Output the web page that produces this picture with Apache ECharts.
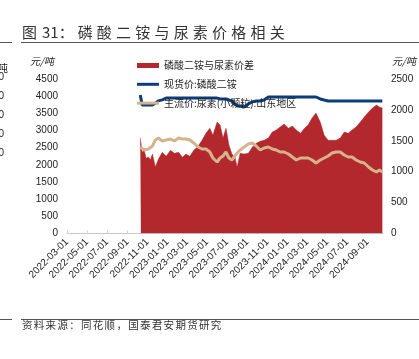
<!DOCTYPE html>
<html>
<head>
<meta charset="utf-8">
<script src="https://cdn.jsdelivr.net/npm/echarts@6/dist/echarts.min.js"></script>
<style>
html,body{margin:0;padding:0;background:#fff;}
#wrap{position:relative;width:419px;height:359px;overflow:hidden;}
#chart{position:absolute;left:0;top:0;width:419px;height:359px;}
#title{position:absolute;left:22px;top:22px;font-family:"Noto Sans CJK SC";font-size:15px;color:#333;white-space:pre;line-height:20px;}
#title .n{margin-left:5px;}
#title .b{margin-left:4px;letter-spacing:4.2px;}
#foot{position:absolute;left:22px;top:317px;font-family:"Noto Sans CJK SC";font-size:10.5px;color:#333;letter-spacing:1.3px;white-space:nowrap;line-height:16px;}
</style>
</head>
<body>
<div id="wrap">
<div id="chart"></div>
<div id="title">图<span class="n">31：</span><span class="b">磷酸二铵与尿素价格相关</span></div>
<div id="foot">资料来源：同花顺，国泰君安期货研究</div>
</div>
<script>
// ---- data ----
const startDate = '2022-03-01';
const endDate = '2024-10-18';
const dates = ['2022-10-10','2022-10-16','2022-10-22','2022-10-28','2022-11-04','2022-11-10','2022-11-16','2022-11-25','2022-12-04','2022-12-16','2022-12-28','2023-01-10','2023-01-22','2023-02-04','2023-02-15','2023-02-26','2023-03-10','2023-03-22','2023-04-04','2023-04-16','2023-04-28','2023-05-10','2023-05-19','2023-06-01','2023-06-10','2023-06-19','2023-06-28','2023-07-07','2023-07-16','2023-07-25','2023-08-01','2023-08-10','2023-08-22','2023-09-04','2023-09-16','2023-09-28','2023-10-10','2023-10-22','2023-11-04','2023-11-16','2023-11-28','2023-12-10','2023-12-22','2024-01-04','2024-01-16','2024-01-28','2024-02-10','2024-02-22','2024-03-04','2024-03-16','2024-03-28','2024-04-10','2024-04-22','2024-05-04','2024-05-16','2024-05-28','2024-06-10','2024-06-22','2024-07-04','2024-07-16','2024-07-28','2024-08-10','2024-08-22','2024-09-04','2024-09-16','2024-09-28','2024-10-07','2024-10-16'];
// 磷酸二铵与尿素价差 (right axis)
const spread = [1550,1314,1347,1220,1238,1190,1287,1076,1201,1314,1249,1347,1298,1314,1233,1287,1249,1347,1412,1509,1623,1704,1590,1806,1758,1546,1704,1433,1287,1238,1076,1298,1287,1298,1395,1460,1493,1509,1546,1644,1677,1726,1774,1704,1741,1677,1623,1704,1758,1871,1952,1806,1590,1509,1509,1509,1546,1644,1623,1677,1726,1806,1887,1968,2033,2082,2050,2033];
// 现货价:磷酸二铵 (left axis)
const dap = [4040,3750,3750,3750,3750,3750,3750,3800,3870,3900,3950,3950,3950,3950,3950,3950,3950,3950,3950,3950,3950,3950,3950,3950,3925,3925,3925,3895,3866,3780,3720,3720,3690,3780,3840,3866,3866,3895,3983,3983,3983,3983,3983,3983,3983,3983,3983,3983,3983,3983,3983,3925,3895,3866,3866,3866,3866,3866,3866,3866,3866,3866,3866,3866,3866,3866,3866,3866];
// 主流价:尿素(小颗粒):山东地区 (left axis)
const urea = [2522,2493,2434,2480,2463,2500,2551,2726,2785,2697,2726,2755,2697,2785,2755,2755,2726,2639,2522,2463,2463,2376,2200,2083,2200,2259,2376,2200,2142,2259,2346,2434,2522,2610,2639,2551,2434,2493,2522,2463,2434,2376,2376,2317,2230,2142,2200,2200,2200,2142,2054,2142,2200,2259,2346,2376,2376,2288,2230,2230,2142,2083,2054,1937,1849,1791,1849,1791];
const seriesNames = ['磷酸二铵与尿素价差','现货价:磷酸二铵','主流价:尿素(小颗粒):山东地区'];
const leftTicks = {min:0,max:4500,interval:500};
const rightTicks = {min:0,max:2500,interval:500};

// ---- build daily category axis ----
const days = [];
for (let t = Date.parse(startDate+'T00:00:00Z'); t <= Date.parse(endDate+'T00:00:00Z'); t += 86400000) {
  days.push(new Date(t).toISOString().slice(0,10));
}
const idx = {}; days.forEach((d,i)=>idx[d]=i);
function place(vals){
  const arr = new Array(days.length).fill(null);
  dates.forEach((d,i)=>{ if (idx[d]!==undefined) arr[idx[d]] = vals[i]; });
  return arr;
}
const showTick = (i, v) => v.slice(8)==='01' && parseInt(v.slice(5,7),10)%2===1;
const plain = v => String(v);
const lineIcon = 'path://M0,0H22V3H0Z';

const chart = echarts.init(document.getElementById('chart'), null, {renderer:'canvas'});
const numFont = 'Liberation Sans Narrow, Liberation Sans, Arial';
chart.setOption({
  animation:false,
  backgroundColor:'#fff',
  grid:{left:67,right:36,top:79.3,bottom:125.7,containLabel:false},
  legend:{
    orient:'vertical', left:132, top:54.5, itemWidth:22, itemHeight:5, itemGap:6.8,
    textStyle:{fontFamily:'Noto Sans CJK SC',fontSize:10,color:'#222',lineHeight:12},
    data:[{name:seriesNames[0],icon:'rect'},{name:seriesNames[1],icon:lineIcon},{name:seriesNames[2],icon:lineIcon}]
  },
  xAxis:{
    type:'category', data:days, boundaryGap:false,
    axisLine:{lineStyle:{color:'#c8c8c8',width:1}},
    axisTick:{inside:true,length:3,interval:showTick,lineStyle:{color:'#d8d8d8'}},
    axisLabel:{interval:showTick,rotate:45,fontSize:10,color:'#222',fontFamily:'Liberation Sans, Arial',margin:7},
    splitLine:{show:false}
  },
  yAxis:[
    {type:'value',min:leftTicks.min,max:leftTicks.max,interval:leftTicks.interval,
     axisLine:{show:false},axisTick:{show:false},splitLine:{show:false},
     axisLabel:{formatter:plain,fontSize:10,color:'#222',fontFamily:numFont,margin:9}},
    {type:'value',min:rightTicks.min,max:rightTicks.max,interval:rightTicks.interval,position:'right',
     axisLine:{show:false},axisTick:{show:false},splitLine:{show:false},
     axisLabel:{formatter:plain,fontSize:10,color:'#222',fontFamily:numFont,margin:8}}
  ],
  series:[
    {name:seriesNames[0],type:'line',yAxisIndex:1,data:place(spread),connectNulls:true,
     symbol:'none',showSymbol:false,lineStyle:{width:0.5,color:'#B2282D'},itemStyle:{color:'#B2282D'},
     areaStyle:{color:'#B2282D',opacity:1},z:1},
    {name:seriesNames[1],type:'line',yAxisIndex:0,data:place(dap),connectNulls:true,
     symbol:'none',showSymbol:false,lineStyle:{width:3,color:'#0B3D7A'},itemStyle:{color:'#0B3D7A'},z:3},
    {name:seriesNames[2],type:'line',yAxisIndex:0,data:place(urea),connectNulls:true,
     symbol:'none',showSymbol:false,lineStyle:{width:3,color:'#D4B38D'},itemStyle:{color:'#D4B38D'},z:2}
  ],
  graphic:[
    {type:'line',shape:{x1:21,y1:42.5,x2:419,y2:42.5},style:{stroke:'#555',lineWidth:1}},
    {type:'line',shape:{x1:0,y1:42.5,x2:12,y2:42.5},style:{stroke:'#555',lineWidth:1}},
    {type:'line',shape:{x1:21,y1:319.5,x2:419,y2:319.5},style:{stroke:'#555',lineWidth:1}},
    {type:'line',shape:{x1:0,y1:319.5,x2:12,y2:319.5},style:{stroke:'#555',lineWidth:1}},
    {type:'text',left:30,top:56,style:{text:'元/吨',fontSize:10,fontFamily:'Noto Sans CJK SC',fill:'#222',fontStyle:'italic'}},
    {type:'text',left:392,top:56,style:{text:'元/吨',fontSize:10,fontFamily:'Noto Sans CJK SC',fill:'#222',fontStyle:'italic'}},
    {type:'text',x:8,y:68,style:{text:'元/吨',fontSize:10,fontFamily:'Noto Sans CJK SC',fill:'#222',align:'right',verticalAlign:'middle'}},
    {type:'text',x:4,y:77,style:{text:'3000',fontSize:10,fontFamily:numFont,fill:'#222',align:'right',verticalAlign:'middle'}},
    {type:'text',x:4,y:96,style:{text:'2500',fontSize:10,fontFamily:numFont,fill:'#222',align:'right',verticalAlign:'middle'}},
    {type:'text',x:4,y:115,style:{text:'2000',fontSize:10,fontFamily:numFont,fill:'#222',align:'right',verticalAlign:'middle'}},
    {type:'text',x:4,y:134,style:{text:'1500',fontSize:10,fontFamily:numFont,fill:'#222',align:'right',verticalAlign:'middle'}},
    {type:'text',x:4,y:153,style:{text:'1000',fontSize:10,fontFamily:numFont,fill:'#222',align:'right',verticalAlign:'middle'}}
  ]
});
</script>
</body>
</html>
